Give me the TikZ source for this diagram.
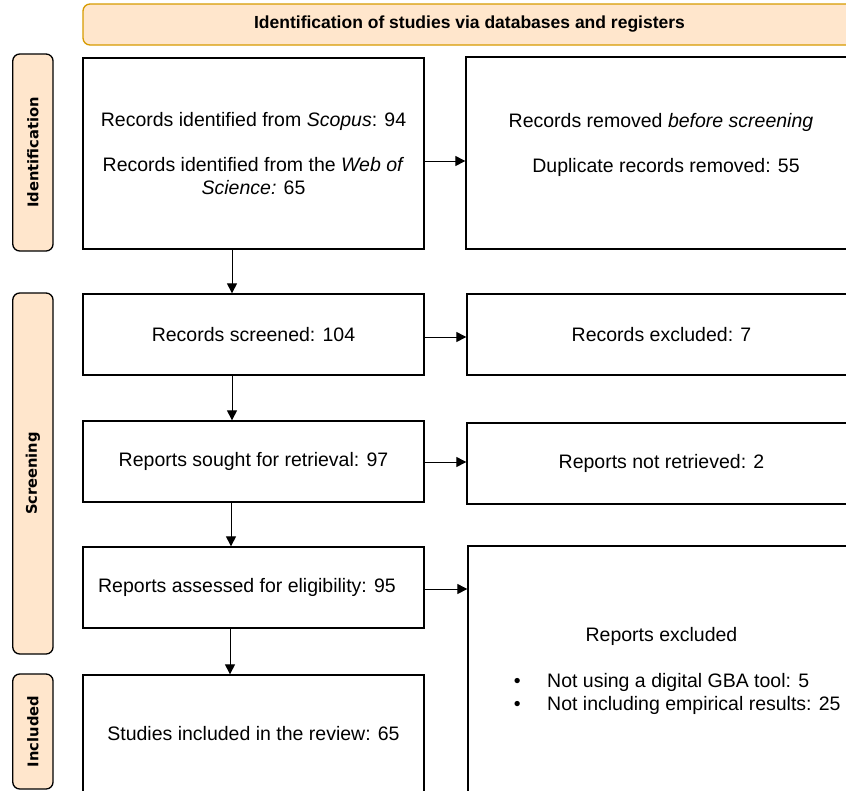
\documentclass[tikz,border=0pt]{standalone}
\usepackage{fontspec}
\setmainfont{Liberation Sans}
\newfontfamily\sidefont{DejaVu Sans}
\usetikzlibrary{arrows.meta}
\definecolor{phasefill}{HTML}{FFE6CC}
\definecolor{phasedraw}{HTML}{D79B00}
\begin{document}
\begin{tikzpicture}[x=1pt,y=-1pt,
  box/.style={draw=black, line width=1.3pt, rectangle, inner sep=0pt, align=center,
              font=\fontsize{19.5}{23}\selectfont},
  txt/.style={inner sep=0pt, align=center, font=\fontsize{19.5}{23}\selectfont},
  phase/.style={draw=black, fill=phasefill, line width=1.3pt, rounded corners=7pt, inner sep=0pt},
  phaselabel/.style={rotate=90, inner sep=0pt, font=\sidefont\bfseries\fontsize{14.7}{17}\selectfont},
  arr/.style={line width=1pt, -{Triangle[length=10pt,width=10pt]}}]
\useasboundingbox (0,0) rectangle (846,790);
\clip (0,0) rectangle (846,790);

% banner
\node[draw=phasedraw, fill=phasefill, line width=1.3pt, rounded corners=7pt, inner sep=0pt,
      minimum width=773pt, minimum height=41pt,
      font=\bfseries\fontsize{17.5}{20}\selectfont] (banner) at (469.5,24.5)
      {Identification of studies via databases and registers};

% phase side boxes
\node[phase, minimum width=40.3pt, minimum height=197pt] (pid) at (32.9,152.5) {};
\node[phaselabel] (lid) at (pid.center) {Identification};
\node[phase, minimum width=40.3pt, minimum height=361pt] (psc) at (32.9,473.5) {};
\node[phaselabel] (lsc) at (psc.center) {Screening};
\node[phase, minimum width=40.3pt, minimum height=115pt] (pin) at (32.9,731.5) {};
\node[phaselabel] (lin) at (pin.center) {Included};

% left column
\node[box, minimum width=341pt, minimum height=191pt] (b1) at (253.5,153.5)
  {Records identified from \textit{Scopus}: 94\\[22pt]
   Records identified from the \textit{Web of}\\ \textit{Science:} 65};
\node[box, minimum width=341pt, minimum height=81pt] (b3) at (253.5,334.5)
  {Records screened: 104};
\node[box, minimum width=341pt, minimum height=81pt] (b5) at (253.5,461.5)
  {Reports sought for retrieval: 97};
\node[box, minimum width=341pt, minimum height=81pt] (b7) at (253.5,587.5)
  {Reports assessed for eligibility: 95\hspace*{13pt}};
\node[box, minimum width=341pt, minimum height=118pt] (b9) at (253.5,734)
  {Studies included in the review: 65};

% right column
\node[box, minimum width=390pt, minimum height=192pt] (b2) at (661,153) {};
\node[txt, anchor=base] (t2a) at (661,127) {Records removed \textit{before screening}};
\node[txt, anchor=base] (t2b) at (666,172) {Duplicate records removed: 55};
\node[box, minimum width=389pt, minimum height=81pt] (b4) at (661.5,334.5)
  {Records excluded: 7};
\node[box, minimum width=389pt, minimum height=81pt] (b6) at (661.5,463.5)
  {Reports not retrieved: 2};
\node[box, minimum width=388pt, minimum height=247pt] (b8) at (662,669.5) {};
\node[txt, anchor=base] (t8a) at (661.5,641) {Reports excluded};
\node[txt, anchor=base west, align=left] (t8b) at (513.6,687)
  {\begin{tabular}[t]{@{}l@{\hspace{26.6pt}}l@{}}
   \textbullet & Not using a digital GBA tool: 5\\
   \textbullet & Not including empirical results: 25
   \end{tabular}};

% horizontal connectors
\coordinate (h1) at ([yshift=-7.5pt]b1.east);
\draw[arr] (h1) -- (h1 -| b2.west);
\coordinate (h2) at ([yshift=-2.5pt]b3.east);
\draw[arr] (h2) -- (h2 -| b4.west);
\coordinate (h3) at ([yshift=-0.5pt]b5.east);
\draw[arr] (h3) -- (h3 -| b6.west);
\coordinate (h4) at ([yshift=-1.5pt]b7.east);
\draw[arr] (h4) -- (h4 -| b8.west);

% vertical connectors
\coordinate (v1) at ([xshift=-21.5pt]b1.south);
\draw[arr] (v1) -- (v1 |- b3.north);
\coordinate (v2) at ([xshift=-21.5pt]b3.south);
\draw[arr] (v2) -- (v2 |- b5.north);
\coordinate (v3) at ([xshift=-22.5pt]b5.south);
\draw[arr] (v3) -- (v3 |- b7.north);
\coordinate (v4) at ([xshift=-23.5pt]b7.south);
\draw[arr] (v4) -- (v4 |- b9.north);
\end{tikzpicture}
\end{document}
